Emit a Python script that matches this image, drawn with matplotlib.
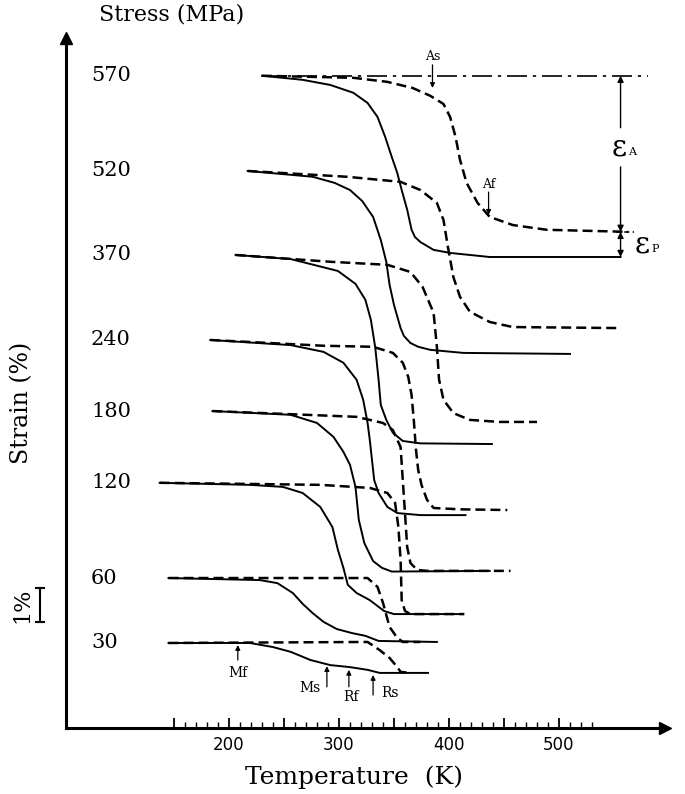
import numpy as np
import matplotlib
matplotlib.use("Agg")
from matplotlib import pyplot as plt

# Stress levels (MPa), top to bottom
stress = [570, 520, 370, 240, 180, 120, 60, 30]

# Cooling curves (solid): temperature (K) and strain (%), each level offset
cool_570_T = [230, 267, 292, 313, 326, 335, 342, 348, 353, 357, 362, 366, 369, 374, 386, 401, 437, 556]
cool_570_e = [19.18, 19.06, 18.91, 18.68, 18.38, 17.97, 17.38, 16.79, 16.32, 15.82, 15.24, 14.65,
              14.44, 14.29, 14.06, 13.97, 13.85, 13.85]
cool_520_T = [217, 276, 296, 310, 321, 331, 338, 343, 346, 350, 356, 359, 365, 372, 383, 413, 510]
cool_520_e = [16.38, 16.21, 16.03, 15.82, 15.50, 15.03, 14.35, 13.71, 13.03, 12.44, 11.76, 11.53,
              11.32, 11.21, 11.12, 11.03, 11.00]
cool_370_T = [206, 256, 299, 315, 324, 329, 333, 336, 338, 343, 349, 358, 374, 439]
cool_370_e = [13.91, 13.79, 13.44, 13.06, 12.59, 12.00, 11.18, 10.24, 9.50, 9.06, 8.68, 8.44, 8.37, 8.35]
cool_240_T = [183, 256, 286, 304, 316, 322, 326, 328, 330, 332, 336, 344, 353, 374, 415]
cool_240_e = [11.41, 11.26, 11.06, 10.74, 10.24, 9.65, 8.97, 8.47, 7.88, 7.29, 6.91, 6.50, 6.32, 6.26, 6.26]
cool_180_T = [185, 256, 280, 295, 304, 310, 315, 318, 323, 331, 339, 348, 437]
cool_180_e = [9.32, 9.21, 8.97, 8.56, 8.12, 7.74, 7.09, 6.12, 5.44, 4.91, 4.71, 4.60, 4.62]
cool_120_T = [137, 219, 249, 267, 283, 294, 299, 304, 308, 316, 328, 341, 350, 410]
cool_120_e = [7.21, 7.15, 7.09, 6.91, 6.50, 5.91, 5.24, 4.71, 4.21, 3.97, 3.76, 3.44, 3.35, 3.35]
cool_60_T = [145, 228, 244, 258, 267, 276, 286, 298, 312, 324, 336, 389]
cool_60_e = [4.41, 4.35, 4.26, 3.97, 3.65, 3.38, 3.12, 2.91, 2.79, 2.71, 2.56, 2.53]
cool_30_T = [145, 219, 240, 256, 274, 292, 310, 326, 337, 381]
cool_30_e = [2.50, 2.50, 2.38, 2.24, 2.00, 1.85, 1.79, 1.71, 1.62, 1.62]

# Heating curves (dashed)
heat_570_T = [230, 313, 344, 367, 383, 395, 401, 406, 410, 416, 426, 437, 458, 489, 563]
heat_570_e = [19.18, 19.12, 19.00, 18.82, 18.59, 18.35, 17.97, 17.38, 16.71, 16.03, 15.44, 15.03,
              14.79, 14.65, 14.59]
heat_520_T = [217, 307, 356, 374, 389, 395, 399, 404, 410, 419, 437, 458, 556]
heat_520_e = [16.38, 16.21, 16.06, 15.82, 15.44, 14.94, 14.15, 13.26, 12.68, 12.24, 11.94, 11.79, 11.76]
heat_370_T = [206, 292, 344, 365, 376, 386, 389, 391, 395, 404, 419, 446, 480]
heat_370_e = [13.91, 13.71, 13.62, 13.41, 12.97, 12.21, 11.21, 10.24, 9.65, 9.26, 9.06, 9.00, 9.00]
heat_240_T = [183, 286, 331, 349, 358, 363, 366, 368, 370, 372, 375, 380, 386, 410, 453]
heat_240_e = [11.41, 11.24, 11.21, 11.03, 10.74, 10.32, 9.79, 9.06, 8.18, 7.59, 7.15, 6.71, 6.47, 6.43, 6.41]
heat_180_T = [185, 316, 340, 349, 356, 358, 360, 362, 365, 371, 380, 456]
heat_180_e = [9.32, 9.15, 8.97, 8.76, 8.26, 7.29, 6.32, 5.32, 4.85, 4.65, 4.62, 4.62]
heat_120_T = [137, 283, 328, 344, 351, 354, 356, 357, 360, 365, 414]
heat_120_e = [7.21, 7.15, 7.06, 6.91, 6.62, 5.91, 4.94, 3.76, 3.44, 3.35, 3.35]
heat_60_T = [145, 326, 335, 340, 346, 353, 358, 374]
heat_60_e = [4.41, 4.41, 4.15, 3.68, 2.97, 2.65, 2.53, 2.53]
heat_30_T = [145, 326, 337, 346, 353, 356, 365]
heat_30_e = [2.50, 2.53, 2.29, 2.06, 1.79, 1.65, 1.62]

xtick_vals = [150, 200, 250, 300, 350, 400, 450, 500]
xtick_labels = ["", "200", "", "300", "", "400", "", "500"]
scale_bar = 1.0  # %

cooling = {
    570: (cool_570_T, cool_570_e), 520: (cool_520_T, cool_520_e),
    370: (cool_370_T, cool_370_e), 240: (cool_240_T, cool_240_e),
    180: (cool_180_T, cool_180_e), 120: (cool_120_T, cool_120_e),
    60: (cool_60_T, cool_60_e), 30: (cool_30_T, cool_30_e),
}
heating = {
    570: (heat_570_T, heat_570_e), 520: (heat_520_T, heat_520_e),
    370: (heat_370_T, heat_370_e), 240: (heat_240_T, heat_240_e),
    180: (heat_180_T, heat_180_e), 120: (heat_120_T, heat_120_e),
    60: (heat_60_T, heat_60_e), 30: (heat_30_T, heat_30_e),
}

SERIF = "DejaVu Serif"

fig = plt.figure(figsize=(6.85, 7.94), dpi=100)
ax = fig.add_axes([66 / 685, 66 / 794, 599 / 685, 690 / 794])
ax.set_xlim(51.8, 596.4)
ax.set_ylim(0, 20.29)

for s in ["top", "right"]:
    ax.spines[s].set_visible(False)
for s in ["left", "bottom"]:
    ax.spines[s].set_linewidth(2.2)
ax.set_yticks([])

ax.set_xticks(xtick_vals)
ax.set_xticklabels(xtick_labels, fontsize=12, family="DejaVu Sans")
ax.set_xticks([t for t in range(150, 540, 10) if t % 50], minor=True)
ax.tick_params(axis="x", which="major", direction="in", length=7, width=1.3, pad=6)
ax.tick_params(axis="x", which="minor", direction="in", length=4, width=1.0)

# axis arrow heads
ax.plot(1, 0, ">", color="black", ms=9, transform=ax.transAxes, clip_on=False)
ax.plot(0, 1, "^", color="black", ms=9, transform=ax.transAxes, clip_on=False)

for st in stress:
    T, e = cooling[st]
    ax.plot(T, e, color="black", lw=1.4, solid_joinstyle="round")
    T, e = heating[st]
    ax.plot(T, e, color="black", lw=1.8, linestyle=(0, (4, 2)))
    ax.text(74.5, cooling[st][1][0], str(st), fontsize=15, family=SERIF,
            ha="left", va="center")

# dash-dot reference at the 570 MPa start level
top_e = cool_570_e[0]
ax.plot([cool_570_T[0], 581], [top_e, top_e], color="black", lw=1.2,
        linestyle=(0, (12, 3.5, 2, 3.5)))

# epsilon_A and epsilon_P
xa = cool_570_T[-1]
heat_end = heat_570_e[-1]
cool_end = cool_570_e[-1]
arrow_kw = dict(arrowstyle="-|>", color="black", lw=1.0, mutation_scale=9,
                shrinkA=0, shrinkB=0)
ax.annotate("", xy=(xa, top_e), xytext=(xa, 17.65), arrowprops=arrow_kw)
ax.annotate("", xy=(xa, heat_end), xytext=(xa, 16.5), arrowprops=arrow_kw)
ax.annotate("", xy=(xa, heat_end), xytext=(xa, cool_end),
            arrowprops=dict(arrow_kw, arrowstyle="<|-|>"))
ax.plot([xa - 4, xa + 12], [heat_end, heat_end], color="black", lw=1.2,
        linestyle=(0, (3, 2)))
ax.text(xa - 1, 17.07, "ε", fontsize=21, family=SERIF, ha="center", va="center")
ax.text(xa + 7, 16.95, "A", fontsize=8, family=SERIF, ha="left", va="center")
ax.text(xa + 20, 14.21, "ε", fontsize=21, family=SERIF, ha="center", va="center")
ax.text(xa + 28, 14.1, "P", fontsize=8, family=SERIF, ha="left", va="center")

small_arrow = dict(arrow_kw, lw=0.9, mutation_scale=7)

# As / Af markers on the 570 MPa heating curve (pointing down)
ax.annotate("", xy=(385, 18.82), xytext=(385, 19.5), arrowprops=small_arrow)
ax.text(385, 19.55, "As", fontsize=9, family=SERIF, ha="center", va="bottom")
ax.annotate("", xy=(436, 15.09), xytext=(436, 15.76), arrowprops=small_arrow)
ax.text(436, 15.8, "Af", fontsize=9, family=SERIF, ha="center", va="bottom")

# Mf, Ms, Rf, Rs markers on the 30 MPa cooling curve (pointing up)
ax.annotate("", xy=(208, 2.44), xytext=(208, 2.0), arrowprops=small_arrow)
ax.text(208, 1.62, "Mf", fontsize=10, family=SERIF, ha="center", va="center")
ax.annotate("", xy=(289, 1.82), xytext=(289, 1.21), arrowprops=small_arrow)
ax.text(283, 1.18, "Ms", fontsize=10, family=SERIF, ha="right", va="center")
ax.annotate("", xy=(309, 1.71), xytext=(309, 1.21), arrowprops=small_arrow)
ax.text(311, 0.92, "Rf", fontsize=10, family=SERIF, ha="center", va="center")
ax.annotate("", xy=(331, 1.56), xytext=(331, 0.97), arrowprops=small_arrow)
ax.text(338, 1.02, "Rs", fontsize=10, family=SERIF, ha="left", va="center")

# 1 % scale bar
ax.plot([28.2, 28.2], [3.12, 3.12 + scale_bar], color="black", lw=1.5, clip_on=False)
ax.plot([28.2, 28.2], [3.12, 3.12 + scale_bar], "_", color="black", ms=7, mew=1.5,
        clip_on=False)
ax.text(11.8, 3.12 + scale_bar / 2, "1%", fontsize=16, family=SERIF, rotation=90,
        ha="center", va="center")

ax.text(11.8, 9.56, "Strain (%)", fontsize=17, family=SERIF, rotation=90,
        ha="center", va="center")
fig.text(172 / 685, 1 - 14 / 794, "Stress (MPa)", fontsize=16, family=SERIF,
         ha="center", va="center")
fig.text(354 / 685, 1 - 777 / 794, "Temperature  (K)", fontsize=18, family=SERIF,
         ha="center", va="center")

fig.savefig("out.png", dpi=100)
